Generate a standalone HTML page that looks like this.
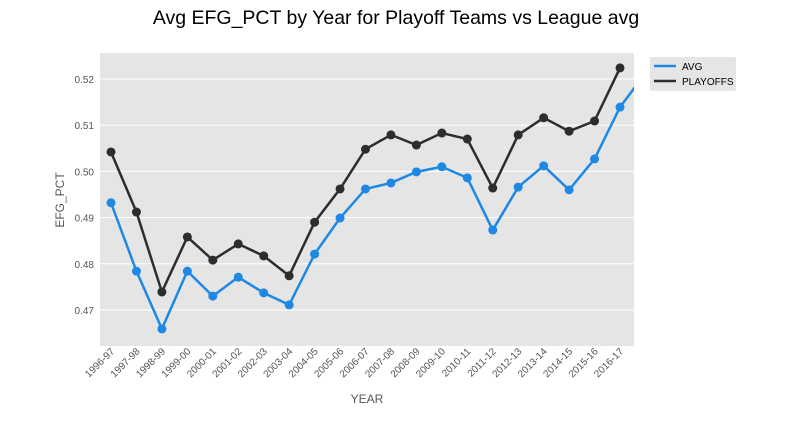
<!DOCTYPE html>
<html><head><meta charset="utf-8"><style>
body{margin:0;background:#fff;font-family:"Liberation Sans",sans-serif}
svg text{font-family:"Liberation Sans",sans-serif}
</style></head><body>
<svg id="chart" width="792" height="432" xmlns="http://www.w3.org/2000/svg">
<text x="396" y="24" text-anchor="middle" font-size="19.5" fill="#000">Avg EFG_PCT by Year for Playoff Teams vs League avg</text>
<defs><clipPath id="pc"><rect x="100" y="53" width="534" height="293"/></clipPath></defs>
<rect x="100" y="53" width="534" height="293" fill="#e5e5e5"/>
<g id="grid"></g><g id="yticks"></g><g id="xticks"></g>
<g id="series" clip-path="url(#pc)"></g>
<text transform="translate(64,200) rotate(-90)" text-anchor="middle" font-size="12" fill="#555">EFG_PCT</text>
<text x="367" y="403" text-anchor="middle" font-size="12" fill="#555">YEAR</text>
<g>
<rect x="650" y="57" width="86" height="34" fill="#e5e5e5" rx="2"/>
<line x1="654" y1="66" x2="676" y2="66" stroke="#1e88e5" stroke-width="2.5"/>
<text x="682" y="70" font-size="10" fill="#000">AVG</text>
<line x1="654" y1="81" x2="676" y2="81" stroke="#2d2d2d" stroke-width="2.5"/>
<text x="682" y="85" font-size="10" fill="#000">PLAYOFFS</text>
</g>
</svg>
<script>
const categories=["1996-97","1997-98","1998-99","1999-00","2000-01","2001-02","2002-03","2003-04","2004-05","2005-06","2006-07","2007-08","2008-09","2009-10","2010-11","2011-12","2012-13","2013-14","2014-15","2015-16","2016-17"];
const avgValues=[0.4932,0.4784,0.4659,0.4784,0.4730,0.4771,0.4737,0.4711,0.4821,0.4899,0.4962,0.4975,0.4999,0.5010,0.4986,0.4873,0.4966,0.5012,0.4960,0.5027,0.5139,0.5213];
const playoffValues=[0.5042,0.4912,0.4739,0.4858,0.4808,0.4843,0.4817,0.4774,0.4890,0.4962,0.5048,0.5079,0.5057,0.5083,0.5070,0.4964,0.5079,0.5116,0.5087,0.5109,0.5224];
const yTicks=[0.47,0.48,0.49,0.50,0.51,0.52];
const NS="http://www.w3.org/2000/svg";
const x=i=>111+i*25.45;
const y=v=>53+(0.52563-v)/(0.52563-0.4622)*293;
function mk(t,a,p){const e=document.createElementNS(NS,t);for(const k in a)e.setAttribute(k,a[k]);p.appendChild(e);return e;}
const grid=document.getElementById('grid'),yt=document.getElementById('yticks'),xt=document.getElementById('xticks'),ser=document.getElementById('series');
yTicks.forEach(v=>{
 const l=mk('line',{x1:100,x2:634,y1:y(v),y2:y(v),stroke:'#fff','stroke-width':1},grid);
 
 
 const t=mk('text',{x:94,y:y(v)+4,'text-anchor':'end','font-size':10,fill:'#555'},yt);
 t.textContent=v.toFixed(2);
 
 
});
categories.forEach((c,i)=>{
 const t=mk('text',{transform:`translate(${x(i)+4},352) rotate(-45)`,'text-anchor':'end','font-size':10,fill:'#555'},xt);
 t.textContent=c;
 
 
});
function series(vals,color,name){
 const p=mk('polyline',{points:vals.map((v,i)=>x(i)+','+y(v)).join(' '),fill:'none',stroke:color,'stroke-width':2.5},ser);
 
 
 vals.forEach((v,i)=>{
  const c=mk('circle',{cx:x(i),cy:y(v),r:4.5,fill:color},ser);
  
  
 });
}
series(avgValues,'#1e88e5','avg');
series(playoffValues,'#2d2d2d','playoffs');
</script>
</body></html>
